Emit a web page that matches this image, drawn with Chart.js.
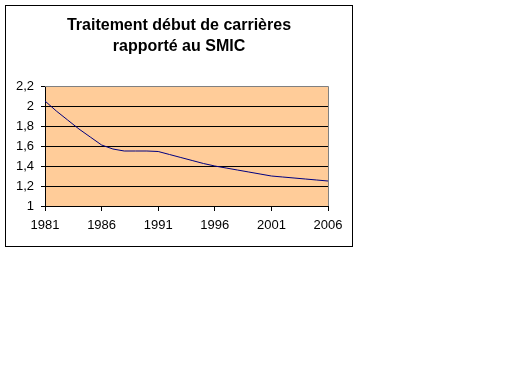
<!DOCTYPE html>
<html>
<head>
<meta charset="utf-8">
<script src="https://cdn.jsdelivr.net/npm/chart.js@4/dist/chart.umd.min.js"></script>
<style>
  body { margin: 0; background: #fff; }
  canvas { display: block; }
</style>
</head>
<body>
<canvas id="myChart" width="512" height="384"></canvas>
<script>
const titleLines = ['Traitement début de carrières', 'rapporté au SMIC'];
const years = [1981, 1982, 1983, 1984, 1985, 1986, 1987, 1988, 1989, 1990, 1991, 1992, 1993,
  1994, 1995, 1996, 1997, 1998, 1999, 2000, 2001, 2002, 2003, 2004, 2005, 2006];
const ratio = [2.05, 1.95, 1.86, 1.77, 1.69, 1.61, 1.57, 1.55, 1.55, 1.55, 1.545, 1.515, 1.485,
  1.455, 1.425, 1.40, 1.38, 1.36, 1.34, 1.32, 1.30, 1.29, 1.28, 1.27, 1.26, 1.25];
const yMin = 1, yMax = 2.2, yStep = 0.2;
const xStep = 5;

const font = '"Liberation Sans", Arial, sans-serif';

// fond saumon de la zone de tracé + cadre extérieur
const frame = {
  id: 'frame',
  beforeDraw(chart) {
    const { ctx, chartArea: a } = chart;
    ctx.save();
    ctx.fillStyle = '#fff';
    ctx.fillRect(0, 0, chart.width, chart.height);
    ctx.strokeStyle = '#000';
    ctx.lineWidth = 1;
    ctx.strokeRect(5.5, 5.5, 347, 241);
    ctx.fillStyle = '#FFCC99';
    ctx.fillRect(a.left, a.top, a.right - a.left, a.bottom - a.top);
    ctx.restore();
  },
  beforeDatasetsDraw(chart) {
    const { ctx, chartArea: a } = chart;
    ctx.save();
    ctx.strokeStyle = '#808080';
    ctx.lineWidth = 1;
    ctx.beginPath();
    ctx.moveTo(a.left, Math.round(a.top) + 0.5);
    ctx.lineTo(Math.round(a.right) + 0.5, Math.round(a.top) + 0.5);
    ctx.lineTo(Math.round(a.right) + 0.5, a.bottom);
    ctx.stroke();
    ctx.restore();
  }
};

const ctx = document.getElementById('myChart').getContext('2d');
new Chart(ctx, {
  type: 'line',
  data: {
    datasets: [{
      data: years.map((y, i) => ({ x: y, y: ratio[i] })),
      borderColor: '#000080',
      borderWidth: 1,
      pointRadius: 0,
      tension: 0,
      fill: false
    }]
  },
  options: {
    responsive: false,
    animation: false,
    layout: { padding: { left: 5, right: 159, top: 5, bottom: 148 } },
    plugins: {
      legend: { display: false },
      tooltip: { enabled: false },
      title: {
        display: true,
        text: titleLines,
        color: '#000',
        font: { family: font, size: 16, weight: 'bold', lineHeight: 1.3125 },
        padding: { top: 10, bottom: 29 }
      }
    },
    scales: {
      x: {
        type: 'linear',
        min: years[0],
        max: years[years.length - 1],
        ticks: {
          stepSize: xStep,
          color: '#000',
          padding: 7,
          maxRotation: 0,
          font: { family: font, size: 13 },
          callback: v => String(v)
        },
        grid: { drawOnChartArea: false, drawTicks: true, tickLength: 5, color: '#000' },
        border: { color: '#000' },
        afterFit: s => { s.height = 30; }
      },
      y: {
        min: yMin,
        max: yMax,
        ticks: {
          stepSize: yStep,
          color: '#000',
          padding: 7,
          font: { family: font, size: 13 },
          callback: v => String(Math.round(v * 10) / 10).replace('.', ',')
        },
        grid: { color: '#000', tickLength: 4 },
        border: { color: '#000' },
        afterFit: s => { s.width = 40; }
      },
      y2: {
        position: 'right',
        display: true,
        ticks: { display: false },
        grid: { display: false },
        border: { display: false },
        afterFit: s => { s.width = 25; }
      }
    }
  },
  plugins: [frame]
});
</script>
</body>
</html>
